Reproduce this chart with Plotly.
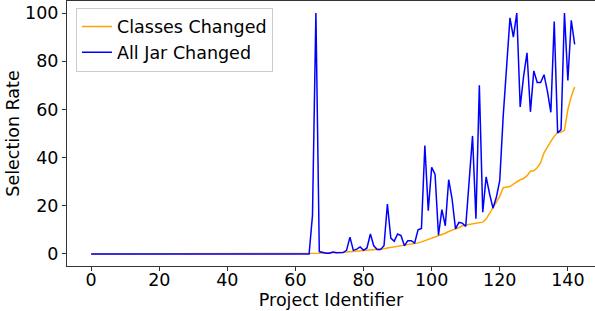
import plotly.graph_objects as go

project_ids = list(range(143))

classes_changed = [0.0] * 64 + [
    0.0, 0.1, 0.2, 0.3, 0.4, 0.4, 0.5, 0.5, 0.6, 0.6,      # 64-73
    0.7, 0.8, 0.9, 1.0, 1.1, 1.2, 1.3, 1.4, 1.5, 1.6,      # 74-83
    1.8, 2.0, 2.2, 2.5, 2.7, 2.9, 3.1, 3.3, 3.5, 3.7,      # 84-93
    4.0, 4.3, 4.6, 5.0, 5.5, 6.0, 6.6, 7.0, 7.4, 8.0,      # 94-103
    8.6, 9.3, 10.0, 10.4, 10.9, 11.7, 12.0, 12.3, 12.6, 12.9,  # 104-113
    13.0, 13.2, 14.5, 16.8, 19.0, 21.8, 23.9, 27.5, 27.7, 28.0,  # 114-123
    29.0, 30.0, 30.8, 31.3, 32.5, 34.3, 34.5, 35.8, 37.9, 42.0,  # 124-133
    44.6, 46.7, 48.8, 50.5, 50.5, 51.3, 59.9, 65.4, 69.3,        # 134-142
]

all_jar_changed = [0.0] * 64 + [
    0.0, 16.0, 100.0, 1.0, 0.5, 0.3, 0.3, 0.8, 0.5, 0.4,   # 64-73
    0.6, 1.5, 7.0, 1.5, 2.0, 2.9, 1.5, 2.5, 8.3, 3.4,      # 74-83
    1.8, 1.8, 3.4, 20.7, 6.6, 5.3, 8.3, 7.6, 3.4, 5.5,     # 84-93
    5.5, 4.5, 10.0, 10.6, 45.0, 18.0, 36.0, 33.0, 7.8, 18.4,  # 94-103
    11.7, 30.8, 22.8, 10.4, 13.1, 12.8, 11.4, 30.0, 49.0, 14.6,  # 104-113
    70.0, 17.3, 32.0, 25.0, 19.0, 23.5, 30.5, 57.0, 80.0, 98.0,  # 114-123
    90.0, 100.0, 61.0, 73.7, 83.5, 59.0, 76.0, 71.2, 71.2, 74.4,  # 124-133
    67.5, 58.8, 96.5, 50.2, 51.6, 100.0, 72.0, 97.0, 87.0,        # 134-142
]

x_ticks = [0, 20, 40, 60, 80, 100, 120, 140]
y_ticks = [0, 20, 40, 60, 80, 100]

FONT = "DejaVu Sans"
FS = 17.5

fig = go.Figure()
fig.add_trace(go.Scatter(x=project_ids, y=classes_changed, mode="lines",
                         name="Classes Changed",
                         line=dict(color="#FFA500", width=1.5)))
fig.add_trace(go.Scatter(x=project_ids, y=all_jar_changed, mode="lines",
                         name="All Jar Changed",
                         line=dict(color="#0000FF", width=1.5)))

fig.update_layout(
    width=595, height=311,
    margin=dict(l=67, r=0, t=1, b=45),
    paper_bgcolor="white", plot_bgcolor="white",
    font=dict(family=FONT, size=FS, color="black"),
    showlegend=True,
    legend=dict(x=0.017, y=0.975, xanchor="left", yanchor="top",
                bordercolor="#cccccc", borderwidth=1,
                bgcolor="rgba(255,255,255,0.8)",
                font=dict(family=FONT, size=FS, color="black")),
)
fig.update_xaxes(range=[-7.1, 147.97], tickmode="array", tickvals=x_ticks,
                 ticktext=[str(v) for v in x_ticks],
                 showgrid=False, zeroline=False, automargin=False,
                 showline=True, linecolor="#333333", linewidth=1, mirror=True,
                 ticks="outside", ticklen=4, tickcolor="#333333",
                 tickfont=dict(size=FS), ticklabelstandoff=-6,
                 title=dict(text="Project Identifier", font=dict(size=FS), standoff=4))
fig.update_yaxes(range=[-5, 105], tickmode="array", tickvals=y_ticks,
                 ticktext=[str(v) for v in y_ticks],
                 showgrid=False, zeroline=False, automargin=False,
                 showline=True, linecolor="#333333", linewidth=1, mirror=False,
                 ticks="outside", ticklen=4, tickcolor="#333333",
                 tickfont=dict(size=FS),
                 title=dict(text="Selection Rate", font=dict(size=FS), standoff=0))

fig.write_html("out.html", config={"displayModeBar": False},
               post_script="document.body.style.margin='0';")
